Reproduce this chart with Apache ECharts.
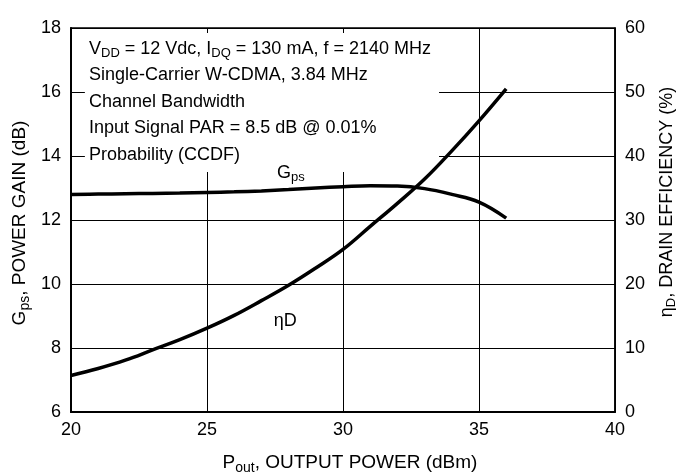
<!DOCTYPE html>
<html><head><meta charset="utf-8">
<script src="https://cdn.jsdelivr.net/npm/echarts@6/dist/echarts.min.js"></script>
<style>html,body{margin:0;padding:0;background:#fff}#c{width:682px;height:475px}</style>
</head><body><div id="c"></div>
<script>
var pout = [20, 21, 22, 23, 24, 25, 26, 27, 28, 29, 30, 31, 32, 33, 34, 35, 36];
var gps  = [12.80, 12.81, 12.82, 12.83, 12.84, 12.86, 12.88, 12.91, 12.95, 13.00, 13.04, 13.07, 13.06, 12.98, 12.80, 12.56, 12.06];
var effD = [5.7, 6.8, 8.1, 9.7, 11.3, 13.1, 15.1, 17.4, 19.8, 22.5, 25.4, 29.0, 32.6, 36.4, 40.8, 45.5, 50.5];
var xTicks = [20, 25, 30, 35, 40];
var gainTicks = [6, 8, 10, 12, 14, 16, 18];
var effTicks = [0, 10, 20, 30, 40, 50, 60];
var noteLines = ['VDD = 12 Vdc, IDQ = 130 mA, f = 2140 MHz', 'Single-Carrier W-CDMA, 3.84 MHz', 'Channel Bandwidth', 'Input Signal PAR = 8.5 dB @ 0.01%', 'Probability (CCDF)'];

var FONT = '"Liberation Sans", Arial, sans-serif';
var FS = 18;
var chart = echarts.init(document.getElementById('c'), null, {renderer: 'canvas'});
function pairs(ys){ return pout.map(function(x,i){return [x, ys[i]];}); }
var opt = {
  animation: false,
  backgroundColor: '#fff',
  grid: {left: 71, right: 67, top: 28, bottom: 63, show: true, borderColor: '#000', borderWidth: 1.5},
  xAxis: {type: 'value', min: xTicks[0], max: xTicks[xTicks.length-1], interval: 5,
    axisLine: {lineStyle: {color: '#000', width: 2}}, axisTick: {show: false},
    axisLabel: {color: '#000', fontFamily: FONT, fontSize: FS, margin: 9},
    splitLine: {show: true, lineStyle: {color: '#000', width: 1}}},
  yAxis: [
    {type: 'value', min: gainTicks[0], max: gainTicks[gainTicks.length-1], interval: 2,
     axisLine: {show: true, lineStyle: {color: '#000', width: 2}}, axisTick: {show: false},
     axisLabel: {color: '#000', fontFamily: FONT, fontSize: FS, margin: 10},
     splitLine: {show: true, lineStyle: {color: '#000', width: 1}}},
    {type: 'value', min: effTicks[0], max: effTicks[effTicks.length-1], interval: 10, position: 'right',
     axisLine: {show: true, lineStyle: {color: '#000', width: 1.5}}, axisTick: {show: false},
     axisLabel: {color: '#000', fontFamily: FONT, fontSize: FS, margin: 10},
     splitLine: {show: false}}
  ],
  series: [
    {name: 'Gps', type: 'line', yAxisIndex: 0, data: pairs(gps), smooth: 0.4, symbol: 'none', z: 5,
     lineStyle: {color: '#000', width: 3.5}},
    {name: 'etaD', type: 'line', yAxisIndex: 1, data: pairs(effD), smooth: 0.4, symbol: 'none', z: 5,
     lineStyle: {color: '#000', width: 3.5}}
  ]
};
chart.setOption(opt);

function px(x, y){ return chart.convertToPixel({gridIndex: 0}, [x, y]); }
var tl = px(20.51, 17.84), br = px(33.53, 13.5);
function rt(extra, fs){ fs = fs || FS; var o = {fontFamily: FONT, fontSize: fs, fill: '#000', rich: {s: {fontFamily: FONT, fontSize: Math.round(fs*0.72), padding: [Math.round(fs*0.5),0,0,0]}, n: {fontFamily: FONT, fontSize: fs}}}; for (var k in extra) o[k]=extra[k]; return o; }
var lines = [
  '{n|V}{s|DD}{n| = 12 Vdc, I}{s|DQ}{n| = 130 mA, f = 2140 MHz}',
  '{n|' + noteLines[1] + '}', '{n|' + noteLines[2] + '}', '{n|' + noteLines[3] + '}', '{n|' + noteLines[4] + '}'
];
var els = [{type: 'rect', shape: {x: tl[0], y: tl[1], width: br[0]-tl[0], height: br[1]-tl[1]}, style: {fill: '#fff'}, z: 1}];
lines.forEach(function(t, i){
  els.push({type: 'text', left: 89, top: 40 + i*26.5, z: 10, style: rt({text: t})});
});
var gl = px(27.57, 13.47);
els.push({type: 'text', x: gl[0], y: gl[1], z: 10, style: rt({text: '{n|G}{s|ps}', textAlign: 'left', textVerticalAlign: 'middle'})});
var el = px(27.45, 8.85);
els.push({type: 'text', x: el[0], y: el[1], z: 10, style: rt({text: '{n|η}{n|D}', textAlign: 'left', textVerticalAlign: 'middle'})});
els.push({type: 'text', x: 350, y: 463, z: 10, style: rt({text: '{n|P}{s|out}{n|, OUTPUT POWER (dBm)}', textAlign: 'center', textVerticalAlign: 'middle'}, 19)});
els.push({type: 'text', x: 20, y: 223, rotation: Math.PI/2, z: 10, style: rt({text: '{n|G}{s|ps}{n|, POWER GAIN (dB)}', textAlign: 'center', textVerticalAlign: 'middle'}, 19)});
els.push({type: 'text', x: 667, y: 202, rotation: Math.PI/2, z: 10, style: rt({text: '{n|η}{s|D}{n|, DRAIN EFFICIENCY (%)}', textAlign: 'center', textVerticalAlign: 'middle'})});
chart.setOption({graphic: {elements: els}});
</script></body></html>
